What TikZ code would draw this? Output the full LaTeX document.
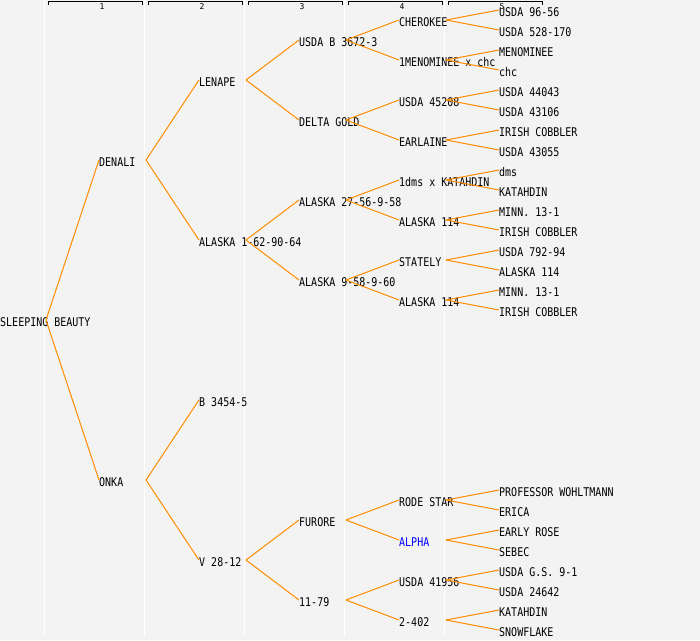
\documentclass[tikz,border=0pt]{standalone}
\usepackage{fontspec}
\newfontfamily\pedfont[FakeStretch=0.833]{DejaVu Sans Mono}
\newfontfamily\hdrfont{DejaVu Sans Mono}
\definecolor{bgcol}{HTML}{F3F3F3}
\definecolor{conncol}{HTML}{FF8C00}
\definecolor{bluetext}{HTML}{0000FF}
\newcommand\pn[4]{\node[lbl] (#1) at (#2,#3) {#4};}
\newcommand\po[3]{\coordinate (#1o) at (#2,#3-2);}
\begin{document}
\begin{tikzpicture}[x=1pt,y=-1pt,
 lbl/.style={anchor=west, inner sep=0pt, text height=8.75pt, text depth=0pt, font=\pedfont\fontsize{12}{12}\selectfont},
 conn/.style={draw=conncol, line width=1pt},
 sepline/.style={draw=white, line width=1pt},
 bracket/.style={draw=black, line width=1pt},
 hdr/.style={font=\hdrfont\fontsize{8}{8}\selectfont, inner sep=0pt, text height=5.8pt, text depth=0pt}]
\useasboundingbox (0,0) rectangle (700,640);
\fill[bgcol] (0,0) rectangle (700,640);
% column separators
\foreach \x in {44,144,244,344,444} \draw[sepline] (\x,0) -- (\x,637);
% header brackets
\foreach \k [evaluate=\k as \l using {48+100*(\k-1)}, evaluate=\k as \r using {142+100*(\k-1)}, evaluate=\k as \c using {102+100*(\k-1)}] in {1,...,5} {
  \draw[bracket] (\l,4.5) -- (\l,1.5) -- (\r,1.5) -- (\r,4.5);
  \node[hdr] (h\k) at (\c,6.5) {\k};
}
% generation 1
\pn{SB}{0}{322}{SLEEPING BEAUTY}\po{SB}{46}{322}
% generation 2
\pn{DEN}{99}{162}{DENALI}\po{DEN}{146}{162}
\pn{ONK}{99}{482}{ONKA}\po{ONK}{146}{482}
% generation 3
\pn{LEN}{199}{82}{LENAPE}\po{LEN}{246}{82}
\pn{AKA}{199}{242}{ALASKA 1-62-90-64}\po{AKA}{246}{242}
\pn{BTF}{199}{402}{B 3454-5}
\pn{VTE}{199}{562}{V 28-12}\po{VTE}{246}{562}
% generation 4
\pn{UBT}{299}{42}{USDA B 3672-3}\po{UBT}{346}{42}
\pn{DGO}{299}{122}{DELTA GOLD}\po{DGO}{346}{122}
\pn{ATS}{299}{202}{ALASKA 27-56-9-58}\po{ATS}{346}{202}
\pn{ANF}{299}{282}{ALASKA 9-58-9-60}\po{ANF}{346}{282}
\pn{FUR}{299}{522}{FURORE}\po{FUR}{346}{522}
\pn{ESN}{299}{602}{11-79}\po{ESN}{346}{602}
% generation 5
\pn{CHE}{399}{22}{CHEROKEE}\po{CHE}{446}{22}
\pn{MEN}{399}{62}{1MENOMINEE x chc}\po{MEN}{446}{62}
\pn{UFF}{399}{102}{USDA 45208}\po{UFF}{446}{102}
\pn{EAR}{399}{142}{EARLAINE}\po{EAR}{446}{142}
\pn{DMS}{399}{182}{1dms x KATAHDIN}\po{DMS}{446}{182}
\pn{AKB}{399}{222}{ALASKA 114}\po{AKB}{446}{222}
\pn{STA}{399}{262}{STATELY}\po{STA}{446}{262}
\pn{AKC}{399}{302}{ALASKA 114}\po{AKC}{446}{302}
\pn{ROD}{399}{502}{RODE STAR}\po{ROD}{446}{502}
\node[lbl, text=bluetext] (ALP) at (399,542) {ALPHA};\po{ALP}{446}{542}
\pn{UFN}{399}{582}{USDA 41956}\po{UFN}{446}{582}
\pn{TFO}{399}{622}{2-402}\po{TFO}{446}{622}
% generation 6
\pn{fa}{499}{12}{USDA 96-56}
\pn{fb}{499}{32}{USDA 528-170}
\pn{fc}{499}{52}{MENOMINEE}
\pn{fd}{499}{72}{chc}
\pn{fe}{499}{92}{USDA 44043}
\pn{ff}{499}{112}{USDA 43106}
\pn{fg}{499}{132}{IRISH COBBLER}
\pn{fh}{499}{152}{USDA 43055}
\pn{fi}{499}{172}{dms}
\pn{fj}{499}{192}{KATAHDIN}
\pn{fk}{499}{212}{MINN. 13-1}
\pn{fl}{499}{232}{IRISH COBBLER}
\pn{fm}{499}{252}{USDA 792-94}
\pn{fn}{499}{272}{ALASKA 114}
\pn{fo}{499}{292}{MINN. 13-1}
\pn{fp}{499}{312}{IRISH COBBLER}
\pn{fq}{499}{492}{PROFESSOR WOHLTMANN}
\pn{fr}{499}{512}{ERICA}
\pn{fs}{499}{532}{EARLY ROSE}
\pn{ft}{499}{552}{SEBEC}
\pn{fu}{499}{572}{USDA G.S. 9-1}
\pn{fv}{499}{592}{USDA 24642}
\pn{fw}{499}{612}{KATAHDIN}
\pn{fx}{499}{632}{SNOWFLAKE}
% connectors
\foreach \p/\c in {SB/DEN,SB/ONK,DEN/LEN,DEN/AKA,ONK/BTF,ONK/VTE,
  LEN/UBT,LEN/DGO,AKA/ATS,AKA/ANF,VTE/FUR,VTE/ESN,
  UBT/CHE,UBT/MEN,DGO/UFF,DGO/EAR,ATS/DMS,ATS/AKB,ANF/STA,ANF/AKC,
  FUR/ROD,FUR/ALP,ESN/UFN,ESN/TFO,
  CHE/fa,CHE/fb,MEN/fc,MEN/fd,UFF/fe,UFF/ff,EAR/fg,EAR/fh,
  DMS/fi,DMS/fj,AKB/fk,AKB/fl,STA/fm,STA/fn,AKC/fo,AKC/fp,
  ROD/fq,ROD/fr,ALP/fs,ALP/ft,UFN/fu,UFN/fv,TFO/fw,TFO/fx}
  \draw[conn] (\p o) -- ([yshift=2pt]\c.west);
\end{tikzpicture}
\end{document}
